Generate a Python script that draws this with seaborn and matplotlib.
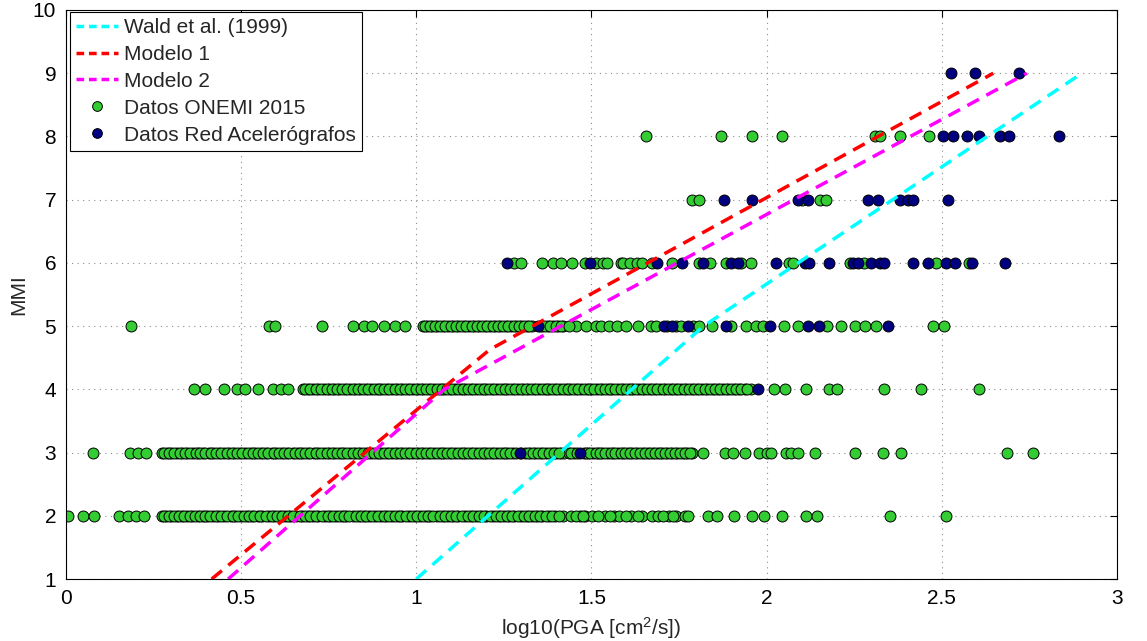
import matplotlib
matplotlib.use("Agg")
import matplotlib.pyplot as plt
import seaborn as sns
import pandas as pd
from matplotlib.lines import Line2D

# ---------------- data ----------------
# Datos ONEMI 2015 (green), x = log10(PGA) per MMI level
onemi_mmi2 = [0.005, 0.049, 0.080, 0.151, 0.177, 0.199, 0.222, 0.273, 0.286, 0.30, 0.318, 0.33, 0.346,
              0.36, 0.377, 0.39, 0.404, 0.421, 0.435, 0.452, 0.47, 0.483, 0.50, 0.516, 0.53, 0.547,
              0.561, 0.58, 0.594, 0.611, 0.626, 0.64, 0.658, 0.675, 0.69, 0.706, 0.72, 0.739, 0.755,
              0.77, 0.787, 0.80, 0.818, 0.836, 0.85, 0.864, 0.882, 0.90, 0.914, 0.93, 0.947, 0.96,
              0.979, 0.995, 1.01, 1.027, 1.04, 1.058, 1.075, 1.09, 1.106, 1.12, 1.139, 1.155, 1.17,
              1.186, 1.20, 1.219, 1.235, 1.25, 1.266, 1.28, 1.298, 1.315, 1.33, 1.346, 1.36, 1.379,
              1.395, 1.42, 1.441, 1.466, 1.482, 1.502, 1.538, 1.563, 1.578, 1.614, 1.645, 1.673,
              1.691, 1.721, 1.742, 1.767, 1.777, 1.833, 1.859, 1.907, 1.959, 1.993, 2.044, 2.112,
              2.144, 2.353, 2.513]
onemi_mmi2_more = [0.279, 0.293, 0.309, 0.324, 0.338, 0.353, 0.368, 0.383, 0.397, 0.412, 0.428, 0.443,
                   0.461, 0.476, 0.491, 0.508, 0.523, 0.538, 0.554, 0.570, 0.587, 0.602, 0.618, 0.633,
                   0.649, 0.667, 0.682, 0.698, 0.713, 0.730, 0.747, 0.762, 0.778, 0.793, 0.809, 0.827,
                   0.843, 0.857, 0.873, 0.891, 0.907, 0.922, 0.938, 0.953, 0.970, 0.987, 1.003, 1.018,
                   1.033, 1.049, 1.067, 1.083, 1.098, 1.113, 1.130, 1.147, 1.162, 1.178, 1.193, 1.210,
                   1.227, 1.243, 1.258, 1.273, 1.289, 1.307, 1.322, 1.338, 1.353, 1.370, 1.387, 1.407,
                   1.455, 1.475, 1.52, 1.553, 1.598, 1.632, 1.705, 1.732]
onemi_mmi3 = [0.077, 0.182, 0.205, 0.228, 0.273, 0.288, 0.30, 0.317, 0.332, 0.345, 0.362, 0.378, 0.39,
              0.407, 0.42, 0.437, 0.452, 0.466, 0.48, 0.497, 0.51, 0.528, 0.541, 0.556, 0.57, 0.587,
              0.60, 0.616, 0.63, 0.647, 0.662, 0.675, 0.69, 0.707, 0.72, 0.737, 0.75, 0.766, 0.782,
              0.795, 0.81, 0.826, 0.84, 0.856, 0.87, 0.887, 0.90, 0.916, 0.93, 0.946, 0.96, 0.977,
              0.99, 1.006, 1.02, 1.036, 1.05, 1.067, 1.08, 1.096, 1.11, 1.127, 1.14, 1.156, 1.17,
              1.187, 1.20, 1.216, 1.23, 1.247, 1.26, 1.277, 1.31, 1.326, 1.34, 1.357, 1.37, 1.387,
              1.40, 1.414, 1.423, 1.436, 1.45, 1.478, 1.49, 1.505, 1.519, 1.53, 1.548, 1.562, 1.575,
              1.59, 1.604, 1.617, 1.63, 1.646, 1.66, 1.675, 1.69, 1.702, 1.716, 1.73, 1.745, 1.76,
              1.773, 1.787, 1.818, 1.881, 1.905, 1.939, 1.978, 2.001, 2.012, 2.055, 2.071, 2.089,
              2.137, 2.251, 2.331, 2.384, 2.685, 2.761]
onemi_mmi3_more = [0.281, 0.294, 0.309, 0.325, 0.339, 0.353, 0.370, 0.384, 0.398, 0.413, 0.428, 0.444,
                   0.459, 0.473, 0.488, 0.503, 0.519, 0.534, 0.548, 0.563, 0.578, 0.593, 0.608, 0.623,
                   0.638, 0.654, 0.668, 0.683, 0.698, 0.713, 0.728, 0.744, 0.758, 0.774, 0.788, 0.802,
                   0.818, 0.833, 0.848, 0.863, 0.878, 0.893, 0.908, 0.923, 0.938, 0.953, 0.968, 0.983,
                   0.998, 1.013, 1.028, 1.043, 1.058, 1.073, 1.088, 1.103, 1.118, 1.133, 1.148, 1.163,
                   1.178, 1.193, 1.208, 1.223, 1.238, 1.253, 1.268, 1.285, 1.298, 1.318, 1.333, 1.348,
                   1.363, 1.378, 1.393, 1.407, 1.443, 1.458, 1.485, 1.497, 1.512, 1.525, 1.54, 1.555,
                   1.568, 1.583, 1.597, 1.61, 1.623, 1.638, 1.653, 1.668, 1.682, 1.696, 1.709, 1.723,
                   1.738, 1.752, 1.766, 1.78]
onemi_mmi4 = [0.365, 0.396, 0.452, 0.488, 0.511, 0.549, 0.590, 0.615, 0.635, 0.676, 0.69, 0.706, 0.72,
              0.737, 0.75, 0.766, 0.78, 0.797, 0.81, 0.826, 0.84, 0.856, 0.87, 0.887, 0.90, 0.916,
              0.93, 0.946, 0.96, 0.977, 0.99, 1.006, 1.02, 1.036, 1.05, 1.067, 1.08, 1.096, 1.11,
              1.127, 1.14, 1.156, 1.17, 1.187, 1.20, 1.216, 1.23, 1.247, 1.26, 1.277, 1.29, 1.306,
              1.32, 1.337, 1.35, 1.366, 1.38, 1.397, 1.41, 1.426, 1.44, 1.457, 1.47, 1.486, 1.50,
              1.516, 1.53, 1.547, 1.56, 1.576, 1.59, 1.607, 1.62, 1.636, 1.65, 1.667, 1.68, 1.696,
              1.71, 1.726, 1.74, 1.757, 1.77, 1.786, 1.80, 1.816, 1.83, 1.847, 1.86, 1.876, 1.89,
              1.906, 1.92, 1.937, 1.955, 2.022, 2.053, 2.112, 2.177, 2.200, 2.336, 2.440, 2.606]
onemi_mmi4_more = [0.683, 0.698, 0.713, 0.728, 0.744, 0.758, 0.773, 0.789, 0.803, 0.818, 0.833, 0.848,
                   0.863, 0.878, 0.893, 0.908, 0.923, 0.938, 0.953, 0.968, 0.983, 0.998, 1.013, 1.028,
                   1.043, 1.058, 1.073, 1.088, 1.103, 1.118, 1.133, 1.148, 1.163, 1.178, 1.193, 1.208,
                   1.223, 1.238, 1.253, 1.268, 1.283, 1.298, 1.313, 1.328, 1.343, 1.358, 1.373, 1.388,
                   1.403, 1.418, 1.433, 1.448, 1.463, 1.478, 1.493, 1.508, 1.523, 1.538, 1.553, 1.568,
                   1.583, 1.598, 1.613, 1.628, 1.643, 1.658, 1.673, 1.688, 1.703, 1.718, 1.733, 1.748,
                   1.763, 1.778, 1.793, 1.808, 1.823, 1.838, 1.853, 1.868, 1.883, 1.898, 1.913, 1.928,
                   1.945]
onemi_mmi5 = [0.185, 0.579, 0.598, 0.730, 0.819, 0.850, 0.875, 0.909, 0.938, 0.969, 1.018, 1.03,
              1.046, 1.06, 1.075, 1.09, 1.106, 1.12, 1.135, 1.15, 1.166, 1.18, 1.195, 1.21, 1.226,
              1.24, 1.255, 1.27, 1.286, 1.30, 1.315, 1.33, 1.36, 1.375, 1.39, 1.405, 1.42, 1.456,
              1.484, 1.512, 1.528, 1.551, 1.573, 1.599, 1.633, 1.670, 1.685, 1.716, 1.74, 1.755,
              1.79, 1.808, 1.844, 1.898, 1.940, 1.969, 1.989, 2.051, 2.091, 2.173, 2.211, 2.251,
              2.282, 2.313, 2.476, 2.506]
onemi_mmi5_more = [1.024, 1.038, 1.053, 1.068, 1.083, 1.098, 1.113, 1.128, 1.143, 1.158, 1.173, 1.188,
                   1.203, 1.218, 1.233, 1.248, 1.263, 1.278, 1.293, 1.308, 1.323, 1.352, 1.368, 1.383,
                   1.398, 1.412, 1.437]
onemi_mmi6 = [1.28, 1.30, 1.36, 1.39, 1.412, 1.444, 1.483, 1.513, 1.533, 1.544, 1.584, 1.589, 1.609,
              1.630, 1.645, 1.673, 1.731, 1.807, 1.837, 1.883, 1.928, 1.955, 2.065, 2.075, 2.237,
              2.277, 2.483, 2.579]
onemi_mmi7 = [1.786, 1.807, 2.102, 2.153, 2.169]
onemi_mmi8 = [1.655, 1.870, 1.959, 2.045, 2.310, 2.323, 2.381, 2.463]

# Datos Red Acelerógrafos (dark blue)
red_mmi3 = [1.296, 1.466]
red_mmi4 = [1.974]
red_mmi5 = [1.347, 1.706, 1.731, 1.777, 1.884, 2.010, 2.119, 2.149, 2.346]
red_mmi6 = [1.26, 1.496, 1.688, 1.758, 1.819, 1.898, 1.918, 2.027, 2.110, 2.122, 2.178, 2.247,
            2.262, 2.298, 2.323, 2.335, 2.419, 2.460, 2.512, 2.537, 2.586, 2.680]
red_mmi7 = [1.878, 1.959, 2.090, 2.118, 2.289, 2.318, 2.381, 2.404, 2.419, 2.518]
red_mmi8 = [2.503, 2.533, 2.573, 2.606, 2.665, 2.692, 2.834]
red_mmi9 = [2.527, 2.594, 2.721]

# Relations (polyline vertices)
wald_x = [1.0, 1.82, 2.90]
wald_y = [1.0, 5.0, 9.0]
modelo1_x = [0.416, 1.21, 2.647]
modelo1_y = [1.0, 4.63, 9.0]
modelo2_x = [0.463, 1.08, 2.743]
modelo2_y = [1.0, 4.0, 9.0]

x_ticks = [0, 0.5, 1, 1.5, 2, 2.5, 3]
x_ticklabels = ["0", "0.5", "1", "1.5", "2", "2.5", "3"]
y_ticks = [1, 2, 3, 4, 5, 6, 7, 8, 9, 10]

# ---------------- build tables ----------------
def table(groups):
    rows = []
    for mmi, xs in groups:
        rows += [(x, mmi) for x in xs]
    return pd.DataFrame(rows, columns=["pga", "mmi"])

df_onemi = table([(2, onemi_mmi2), (2, onemi_mmi2_more), (3, onemi_mmi3), (3, onemi_mmi3_more),
                  (4, onemi_mmi4), (4, onemi_mmi4_more), (5, onemi_mmi5), (5, onemi_mmi5_more),
                  (6, onemi_mmi6), (7, onemi_mmi7), (8, onemi_mmi8)])
df_red = table([(3, red_mmi3), (4, red_mmi4), (5, red_mmi5), (6, red_mmi6),
                (7, red_mmi7), (8, red_mmi8), (9, red_mmi9)])

# ---------------- style ----------------
sns.set_theme(style="white")
plt.rcParams["font.family"] = ["Liberation Sans", "DejaVu Sans"]
plt.rcParams["mathtext.fontset"] = "custom"
plt.rcParams["mathtext.rm"] = "Liberation Sans"
plt.rcParams["mathtext.it"] = "Liberation Sans:italic"

FS = 15
GREEN = "#33cc33"
NAVY = "#000080"

fig = plt.figure(figsize=(11.47, 6.41), dpi=100)
ax = fig.add_axes([0.0575, 0.0967, 0.9163, 0.8877])

sns.scatterplot(data=df_onemi, x="pga", y="mmi", color=GREEN, s=62, edgecolor="black",
                linewidth=0.7, ax=ax, zorder=2, legend=False)
sns.scatterplot(data=df_red, x="pga", y="mmi", color=NAVY, s=62, edgecolor="black",
                linewidth=0.7, ax=ax, zorder=3, legend=False)

for xs, ys, col in [(wald_x, wald_y, "#00ffff"), (modelo1_x, modelo1_y, "#ff0000"),
                    (modelo2_x, modelo2_y, "#ff00ff")]:
    sns.lineplot(x=xs, y=ys, sort=False, estimator=None, color=col, lw=2.5, ax=ax,
                 zorder=4, legend=False)
    ax.lines[-1].set_dashes([3.8, 2.4])

ax.set_xlim(0, 3)
ax.set_ylim(1, 10)
ax.set_xticks(x_ticks)
ax.set_xticklabels(x_ticklabels)
ax.set_yticks(y_ticks)
ax.tick_params(direction="in", length=5, width=0.8, top=True, right=True,
               labelsize=FS, colors="black", pad=7)
ax.grid(True, linestyle=(0, (1, 4)), color="#8c8c8c", lw=0.8)
ax.set_axisbelow(True)
for s in ax.spines.values():
    s.set_color("black")
    s.set_linewidth(0.8)

ax.set_xlabel(r"log10(PGA [cm$^2$/s])", fontsize=FS, labelpad=5)
ax.set_ylabel("MMI", fontsize=FS, labelpad=3)

handles = [
    Line2D([], [], color="#00ffff", lw=2.5, dashes=[2.2, 1.4]),
    Line2D([], [], color="#ff0000", lw=2.5, dashes=[2.2, 1.4]),
    Line2D([], [], color="#ff00ff", lw=2.5, dashes=[2.2, 1.4]),
    Line2D([], [], ls="none", marker="o", markersize=7, markerfacecolor=GREEN,
           markeredgecolor="black", markeredgewidth=0.7),
    Line2D([], [], ls="none", marker="o", markersize=7, markerfacecolor=NAVY,
           markeredgecolor="black", markeredgewidth=0.7),
]
labels = ["Wald et al. (1999)", "Modelo 1", "Modelo 2", "Datos ONEMI 2015",
          "Datos Red Acelerógrafos"]
leg = ax.legend(handles, labels, loc="upper left", bbox_to_anchor=(0.004, 0.997),
                fontsize=FS, frameon=True, fancybox=False, framealpha=1,
                edgecolor="black", borderpad=0.3, labelspacing=0.38,
                handlelength=2.0, handletextpad=0.3, borderaxespad=0.0)
leg.get_frame().set_linewidth(0.8)
leg.set_zorder(10)

fig.savefig("out.png", dpi=100)
